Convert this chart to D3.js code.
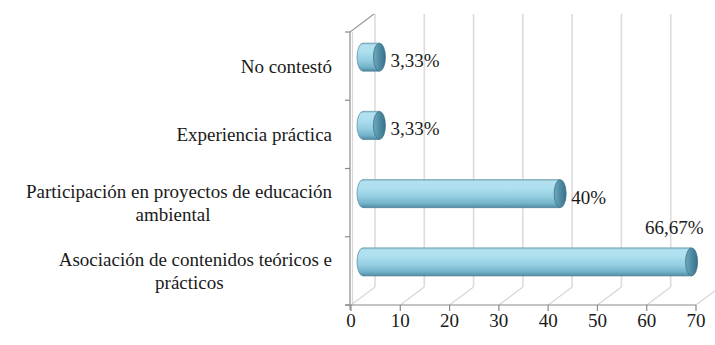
<!DOCTYPE html>
<html>
<head>
<meta charset="utf-8">
<script src="https://cdn.jsdelivr.net/npm/d3@7"></script>
</head>
<body style="margin:0">
<svg id="chart" width="715" height="345"></svg>
<script>
// Categories from top to bottom (label lines as wrapped), with their percentages
const categoryLines = [
  ["No contestó"],
  ["Experiencia práctica"],
  ["Participación en proyectos de educación", "ambiental"],
  ["Asociación de contenidos teóricos e", "prácticos"]
];
const categories = categoryLines.map(l => l.join(" "));
const values = [3.33, 3.33, 40, 66.67];
const valueLabels = ["3,33%", "3,33%", "40%", "66,67%"];
const tickValues = [0, 10, 20, 30, 40, 50, 60, 70];

const W = 715, H = 345;
const svg = d3.select("#chart");

// Average advance of the 19px serif face, used to lay out text blocks
const charW = 8.15;
const approxWidth = s => s.length * charW;

function addText(parent, s) {
  return parent.append("text")
    .attr("font-family", "Liberation Serif")
    .attr("font-size", 19)
    .attr("fill", "#1a1a1a")
    .text(s);
}

// Plot frame (front plane) and 3-D depth offset
const plotLeft = 351, plotRight = 696, plotTop = 32, plotBottom = 305;
const dx = 24, dy = -18;

const x = d3.scaleLinear().domain([0, 70]).range([plotLeft, plotRight]);
const y = d3.scaleBand().domain(categories).range([plotTop, plotBottom]).padding(0);

const defs = svg.append("defs");
const bodyGrad = defs.append("linearGradient").attr("id", "cylBody")
  .attr("x1", 0).attr("y1", 0).attr("x2", 0).attr("y2", 1);
[[0, "#86b9cc"], [0.07, "#b3e1ef"], [0.3, "#ade0ef"], [0.62, "#93cde0"],
 [0.85, "#74b3c9"], [1, "#4f8da5"]].forEach(([o, c]) =>
  bodyGrad.append("stop").attr("offset", o).attr("stop-color", c));
const capGrad = defs.append("linearGradient").attr("id", "cylCap")
  .attr("x1", 0).attr("y1", 0).attr("x2", 1).attr("y2", 0);
[[0, "#6fa9be"], [0.5, "#4f8ca3"], [1, "#3b7189"]].forEach(([o, c]) =>
  capGrad.append("stop").attr("offset", o).attr("stop-color", c));

// Back wall gridlines
svg.append("g").selectAll("line").data(tickValues).join("line")
  .attr("x1", d => x(d) + dx).attr("x2", d => x(d) + dx)
  .attr("y1", plotTop + dy).attr("y2", plotBottom + dy)
  .attr("stroke", "#dcdcdc").attr("stroke-width", 1.6);

// Floor lines running back from each tick
svg.append("g").selectAll("line").data(tickValues).join("line")
  .attr("x1", d => x(d)).attr("x2", d => x(d) + dx)
  .attr("y1", plotBottom).attr("y2", plotBottom + dy)
  .attr("stroke", "#d6d6d6").attr("stroke-width", 1.2);

// Side wall: inner edge, front edge and top edge
svg.append("line").attr("x1", plotLeft + 1.5).attr("x2", plotLeft + 1.5)
  .attr("y1", plotTop).attr("y2", plotBottom)
  .attr("stroke", "#d8d8d8").attr("stroke-width", 1.2);
svg.append("line").attr("x1", plotLeft - 1).attr("x2", plotLeft - 1)
  .attr("y1", plotTop).attr("y2", plotBottom + 5)
  .attr("stroke", "#8a8a8a").attr("stroke-width", 1.2);
svg.append("line").attr("x1", plotLeft - 1).attr("x2", plotLeft - 1 + dx)
  .attr("y1", plotTop).attr("y2", plotTop + dy)
  .attr("stroke", "#9a9a9a").attr("stroke-width", 1.2);

// Category axis tick marks at band boundaries
const bounds = categories.map(c => y(c)).concat([plotBottom]);
svg.append("g").selectAll("line").data(bounds).join("line")
  .attr("x1", plotLeft - 6).attr("x2", plotLeft - 1)
  .attr("y1", d => d).attr("y2", d => d)
  .attr("stroke", "#8a8a8a").attr("stroke-width", 1.2);

// Value axis line, ticks and labels
svg.append("line").attr("x1", plotLeft - 6).attr("x2", plotRight)
  .attr("y1", plotBottom).attr("y2", plotBottom)
  .attr("stroke", "#8a8a8a").attr("stroke-width", 1.2);
svg.append("g").selectAll("line").data(tickValues).join("line")
  .attr("x1", d => x(d)).attr("x2", d => x(d))
  .attr("y1", plotBottom).attr("y2", plotBottom + 6)
  .attr("stroke", "#8a8a8a").attr("stroke-width", 1.2);
tickValues.forEach(t => {
  addText(svg, String(t))
    .attr("x", x(t)).attr("y", plotBottom + 22)
    .attr("text-anchor", "middle");
});

// Cylinder bars, set at mid depth
const barH = 28, rx = 6;
categories.forEach((c, i) => {
  const g = svg.append("g");
  const cy = y(c) + y.bandwidth() / 2 + dy / 2;
  const xs = x(0) + dx / 2, xe = x(values[i]) + dx / 2;
  g.append("ellipse").attr("cx", xs).attr("cy", cy).attr("rx", rx).attr("ry", barH / 2)
    .attr("fill", "url(#cylBody)").attr("stroke", "#5e93a7").attr("stroke-width", 0.8);
  g.append("rect").attr("x", xs).attr("y", cy - barH / 2)
    .attr("width", xe - xs).attr("height", barH).attr("fill", "url(#cylBody)");
  g.append("line").attr("x1", xs).attr("x2", xe)
    .attr("y1", cy - barH / 2).attr("y2", cy - barH / 2)
    .attr("stroke", "#6f9fb2").attr("stroke-width", 0.8);
  g.append("line").attr("x1", xs).attr("x2", xe)
    .attr("y1", cy + barH / 2).attr("y2", cy + barH / 2)
    .attr("stroke", "#4a7f94").attr("stroke-width", 0.8);
  g.append("ellipse").attr("cx", xe).attr("cy", cy).attr("rx", rx).attr("ry", barH / 2)
    .attr("fill", "url(#cylCap)").attr("stroke", "#3d7288").attr("stroke-width", 0.8);
});

// Value labels: beside the bar end, or above it when it would run off the edge
categories.forEach((c, i) => {
  const cy = y(c) + y.bandwidth() / 2 + dy / 2;
  const xe = x(values[i]) + dx / 2;
  const t = addText(svg, valueLabels[i]);
  if (xe + rx + 5 + approxWidth(valueLabels[i]) * 1.2 > W - 4) {
    t.attr("x", xe + rx + 6).attr("y", cy - 28).attr("text-anchor", "end");
  } else {
    t.attr("x", xe + rx + 5).attr("y", cy + 10).attr("text-anchor", "start");
  }
});

// Category labels: block right-aligned to the axis, lines centred in the block
const labelRight = 332, lineH = 23;
categoryLines.forEach((lines, i) => {
  const cy = y(categories[i]) + y.bandwidth() / 2;
  const y0 = cy - (lines.length - 1) * lineH / 2;
  const center = labelRight - d3.max(lines, approxWidth) / 2;
  lines.forEach((l, k) => {
    const t = addText(svg, l).attr("y", y0 + k * lineH + 6.5);
    if (lines.length === 1) t.attr("x", labelRight).attr("text-anchor", "end");
    else if (k === 0) t.attr("x", labelRight).attr("text-anchor", "end");
    else t.attr("x", center).attr("text-anchor", "middle");
  });
});
</script>
</body>
</html>
